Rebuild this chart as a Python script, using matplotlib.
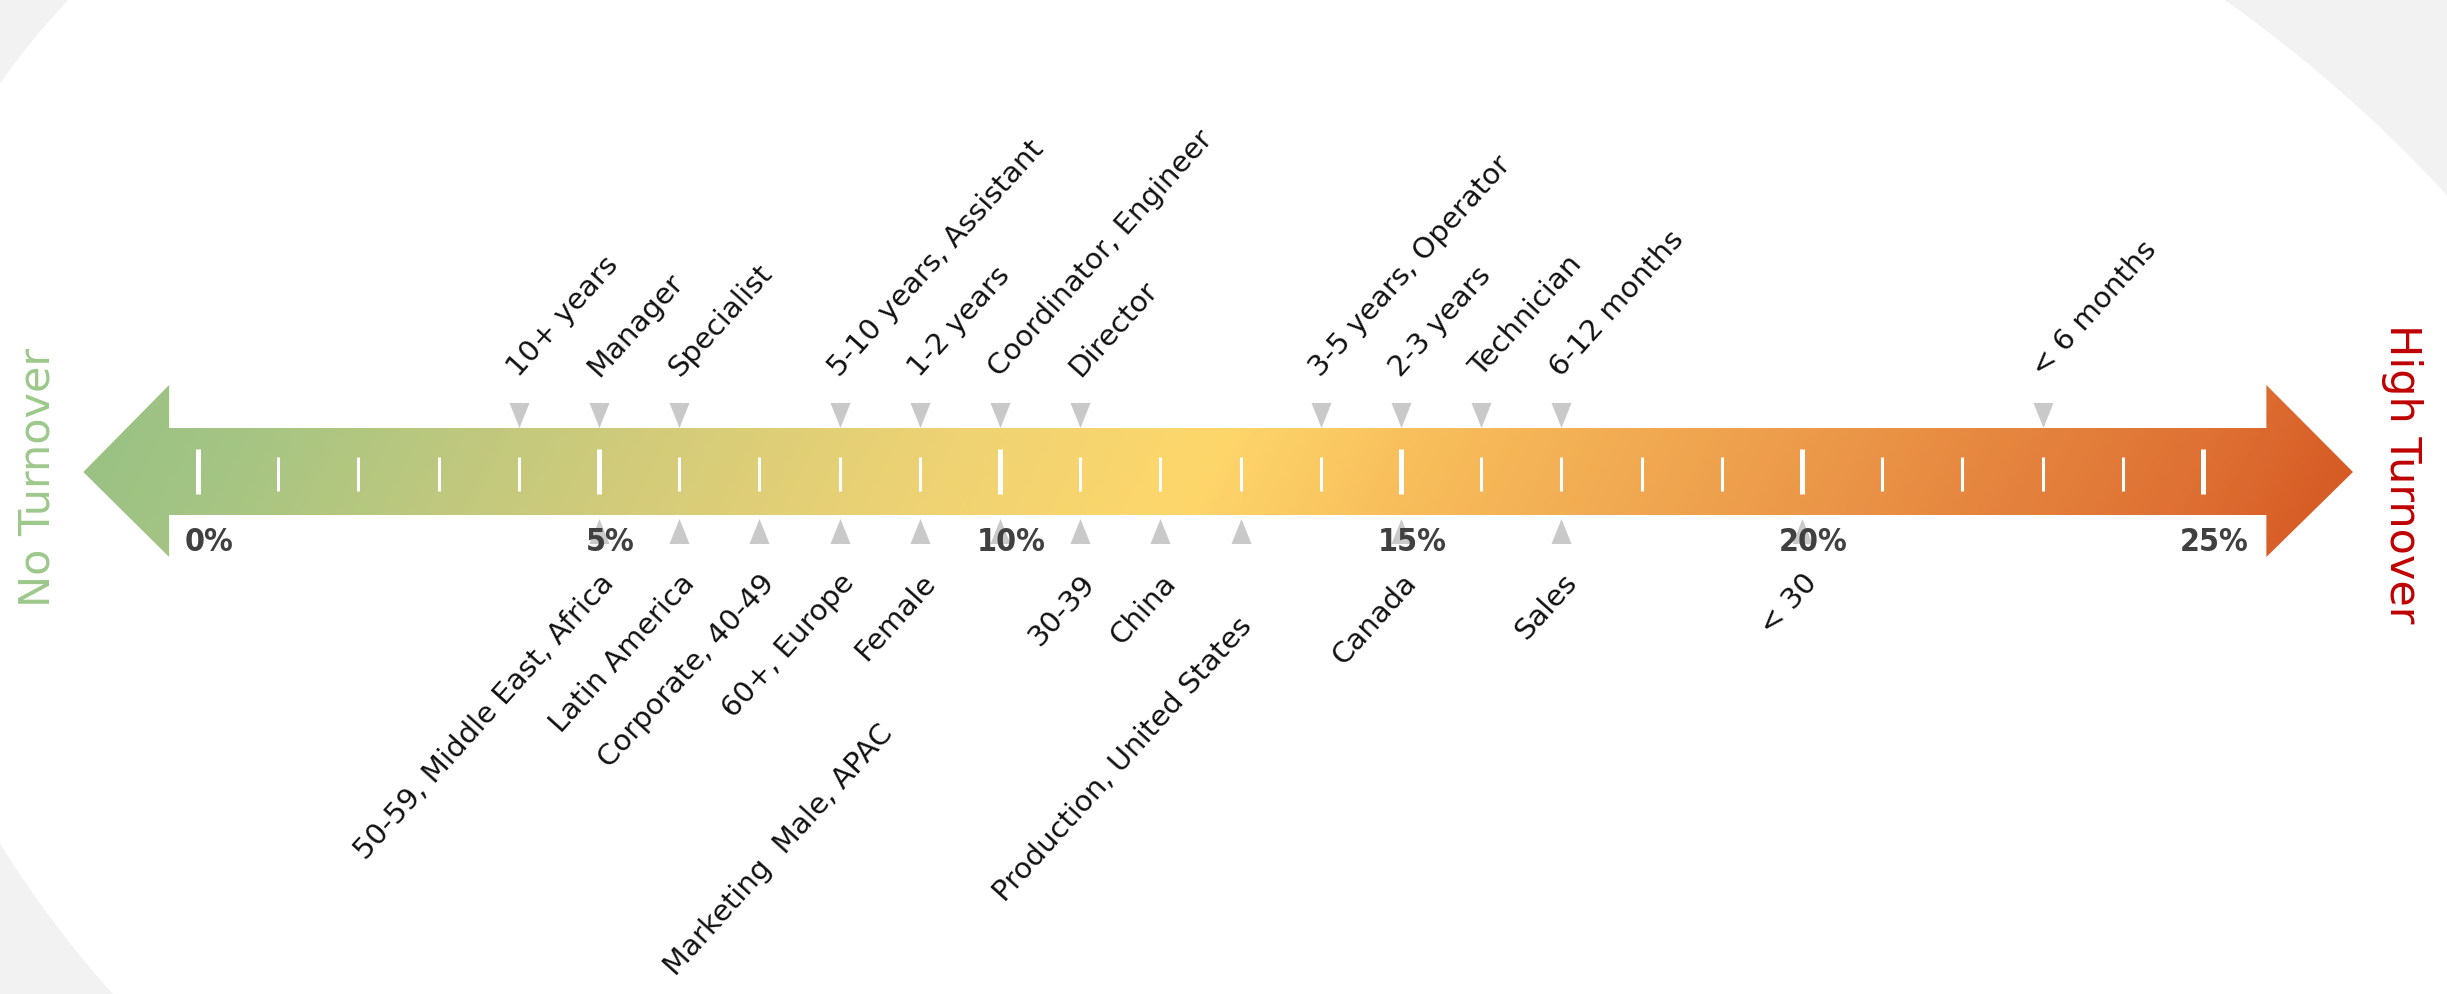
import matplotlib
matplotlib.use("Agg")
import matplotlib.pyplot as plt
import numpy as np
from matplotlib.patches import Polygon
from matplotlib.colors import LinearSegmentedColormap

# turnover rate (%) per group
top_labels = ['10+ years', 'Manager', 'Specialist', '5-10 years, Assistant', '1-2 years',
              'Coordinator, Engineer', 'Director', '3-5 years, Operator', '2-3 years',
              'Technician', '6-12 months', '< 6 months']
top_values = [4, 5, 6, 8, 9, 10, 11, 14, 15, 16, 17, 23]

bottom_labels = ['50-59, Middle East, Africa', 'Latin America', 'Corporate, 40-49', '60+, Europe',
                 'Female', 'Marketing  Male, APAC', '30-39', 'China', 'Production, United States',
                 'Canada', 'Sales', '< 30']
bottom_values = [5, 6, 7, 8, 9, 10, 11, 12, 13, 15, 17, 20]

pct_ticks = [0, 5, 10, 15, 20, 25]
minor_ticks = list(range(0, 26))

# layout (pixels): x = X0 + SCALE * pct, y measured up from arrow centre line
W, H = 2447, 995
X0, SCALE, YC = 198, 80.2, 473
FONT = 'DejaVu Sans'
ANGLE = 48
LABEL_SIZE = 21

# nudges for a couple of crowded bottom labels (pixels)
bottom_nudge = {'Marketing  Male, APAC': (-122, -150), 'Production, United States': (-4, -43)}

# points on the edge of the white backdrop oval (pixels, y down; last one is off the frame)
oval_edge = [(0, 70), (0, 843), (80, 0), (2227, 0), (2447, 200), (2447, 1250)]


def draw_background(fig):
    bg = fig.add_axes([0, 0, 1, 1], zorder=0)
    ex, ey = (np.array(oval_edge, dtype=float) / 1000.0).T
    A = np.column_stack([ex * ex, ex * ey, ey * ey, ex, ey, np.ones_like(ex)])
    c = np.linalg.svd(A)[2][-1]

    def conic(x, y):
        return c[0] * x * x + c[1] * x * y + c[2] * y * y + c[3] * x + c[4] * y + c[5]

    gx, gy = np.meshgrid(np.linspace(0, W, 1200), np.linspace(0, H, 500))
    Z = conic(gx / 1000.0, gy / 1000.0) * np.sign(conic(1.2, 0.5))
    bg.contourf(gx, gy, Z, levels=[0, Z.max() + 1], colors=['white'], antialiased=True)
    bg.set_xlim(0, W)
    bg.set_ylim(H, 0)
    bg.axis('off')


def draw_arrow(ax):
    hl, hr = -0.36, 25.79
    verts = [(-1.43, 0), (hl, 87), (hl, 44), (hr, 44), (hr, 87), (26.87, 0),
             (hr, -85), (hr, -43), (hl, -43), (hl, -85)]
    poly = Polygon(verts, closed=True, facecolor='none', edgecolor='none')
    ax.add_patch(poly)

    stops = [(-1.5, '#9BC283'), (0, '#A3C484'), (5, '#CFCB7B'), (9, '#EDD274'),
             (12.5, '#FED76B'), (15, '#F8BF5C'), (20, '#EC9A4A'), (25, '#DE7033'),
             (27, '#D65A24')]
    cmap = LinearSegmentedColormap.from_list(
        'turn', [((p + 1.5) / 28.5, c) for p, c in stops])
    xs = np.linspace(-1.5, 27, 800)
    ys = np.linspace(-90, 90, 60)
    X, Y = np.meshgrid(xs, ys)
    T = np.clip((X + 1.5) / 28.5 - Y / 90 * 0.02, 0, 1)
    im = ax.imshow(T, extent=(-1.5, 27, -90, 90), origin='lower', aspect='auto',
                   cmap=cmap, vmin=0, vmax=1, zorder=2)
    im.set_clip_path(poly)

    # ticks
    major = [t for t in minor_ticks if t % 5 == 0]
    minor = [t for t in minor_ticks if t % 5 != 0]
    ax.vlines(major, -22, 23, colors='white', lw=3.6, zorder=3)
    ax.vlines(minor, -19, 15, colors='white', lw=2.2, zorder=3)


def draw_markers(ax):
    down = [(-0.4, 0.5), (0.4, 0.5), (0, -0.5)]
    up = [(-0.4, -0.5), (0.4, -0.5), (0, 0.5)]
    ax.scatter(top_values, [57.5] * len(top_values), marker=down, s=324,
               color='#C9C9C9', linewidths=0, zorder=3)
    ax.scatter(bottom_values, [-58.5] * len(bottom_values), marker=up, s=324,
               color='#C9C9C9', linewidths=0, zorder=3)

    for lab, v in zip(top_labels, top_values):
        ax.text(v, 95, lab, rotation=ANGLE, rotation_mode='anchor', ha='left',
                va='baseline', fontsize=LABEL_SIZE, family=FONT, color='#111111', zorder=4)

    for lab, v in zip(bottom_labels, bottom_values):
        dx, dy = bottom_nudge.get(lab, (0, 0))
        ax.text(v + dx / SCALE, -96 + dy, lab, rotation=ANGLE, rotation_mode='anchor',
                ha='right', va='top', fontsize=LABEL_SIZE, family=FONT, color='#111111',
                zorder=4)

    for t in pct_ticks:
        ax.text(t + 0.14, -70, f'{t}%', ha='center', va='center', fontsize=23,
                family=FONT, fontweight='bold', fontstretch='condensed',
                color='#404040', zorder=5)


def main():
    fig = plt.figure(figsize=(W / 100, H / 100), dpi=100)
    fig.patch.set_facecolor('#F2F2F2')
    draw_background(fig)

    ax = fig.add_axes([0, 0, 1, 1], zorder=1)
    ax.patch.set_alpha(0)
    ax.set_xlim(-X0 / SCALE, (W - X0) / SCALE)
    ax.set_ylim(YC - H, YC)
    ax.axis('off')

    draw_arrow(ax)
    draw_markers(ax)

    ax.text((37 - X0) / SCALE, YC - 477, 'No Turnover', rotation=90, ha='center', va='center',
            fontsize=31, family=FONT, color='#9DC88B')
    ax.text((2402 - X0) / SCALE, YC - 474, 'High Turnover', rotation=-90, ha='center',
            va='center', fontsize=31, family=FONT, color='#C00000')

    fig.savefig('out.png', dpi=100, facecolor=fig.get_facecolor())


if __name__ == "__main__":
    main()
